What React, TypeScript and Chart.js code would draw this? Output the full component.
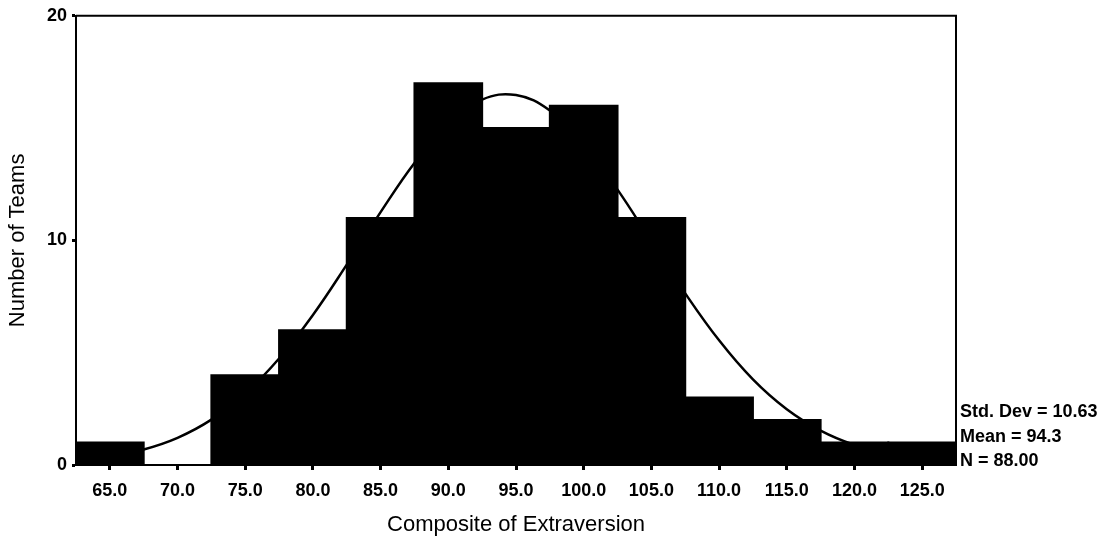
import React, { useEffect, useRef } from "react";
import { Chart, registerables } from "chart.js";

Chart.register(...registerables);

// Histogram bins (bin centres) and counts
const binCenters = [65, 70, 75, 80, 85, 90, 95, 100, 105, 110, 115, 120, 125];
const teamCounts = [1, 0, 4, 6, 11, 17, 15, 16, 11, 3, 2, 1, 1];

// Fitted normal curve
const curveX = [62.5, 65, 67.5, 70, 72.5, 75, 77.5, 80, 82.5, 85, 87.5, 90, 92.5, 95, 97.5, 100, 102.5, 105, 107.5, 110, 112.5, 115, 117.5, 120, 122.5, 125, 127.5];
const curveY = [0.19, 0.37, 0.69, 1.21, 2.02, 3.18, 4.74, 6.68, 8.92, 11.26, 13.45, 15.21, 16.27, 16.47, 15.78, 14.3, 12.26, 9.95, 7.64, 5.55, 3.81, 2.48, 1.53, 0.89, 0.49, 0.26, 0.13];

const xTicks = [65, 70, 75, 80, 85, 90, 95, 100, 105, 110, 115, 120, 125];
const yTicks = [0, 10, 20];
const statsLines = ["Std. Dev = 10.63", "Mean = 94.3", "N = 88.00"];

const xTitle = "Composite of Extraversion";
const yTitle = "Number of Teams";

const FONT = '"Liberation Sans", Arial, sans-serif';

const framePlugin = {
  id: "frame",
  afterDraw(chart: any) {
    const { ctx, chartArea } = chart;
    ctx.save();
    ctx.strokeStyle = "#000";
    ctx.lineWidth = 2;
    ctx.beginPath();
    ctx.moveTo(chartArea.left, chartArea.top);
    ctx.lineTo(chartArea.right, chartArea.top);
    ctx.lineTo(chartArea.right, chartArea.bottom);
    ctx.stroke();
    ctx.fillStyle = "#000";
    ctx.font = `bold 18px ${FONT}`;
    ctx.textAlign = "left";
    ctx.textBaseline = "middle";
    const ys = [412, 437, 461];
    statsLines.forEach((t, i) => ctx.fillText(t, chartArea.right + 4, ys[i]));
    ctx.restore();
  },
};

export default function App() {
  const ref = useRef<HTMLCanvasElement | null>(null);
  useEffect(() => {
    if (!ref.current) return;
    const chart = new Chart(ref.current, {
      type: "bar",
      data: {
        datasets: [
          {
            type: "line",
            data: curveX.map((x, i) => ({ x, y: curveY[i] })),
            borderColor: "#000",
            borderWidth: 2.5,
            pointRadius: 0,
            tension: 0.4,
            fill: false,
            order: 0,
          } as any,
          {
            type: "bar",
            data: binCenters.map((x, i) => ({ x, y: teamCounts[i] })),
            backgroundColor: "#000",
            borderWidth: 0,
            inflateAmount: 1,
            barPercentage: 1,
            categoryPercentage: 1,
            order: 1,
          } as any,
        ],
      },
      options: {
        responsive: false,
        animation: false,
        layout: { padding: { left: 0, top: 13, right: 155, bottom: 0 } },
        plugins: { legend: { display: false }, tooltip: { enabled: false } },
        scales: {
          x: {
            type: "linear",
            min: 62.5,
            max: 127.5,
            offset: false,
            afterBuildTicks: (s: any) => {
              s.ticks = xTicks.map((v) => ({ value: v }));
            },
            afterFit: (s: any) => {
              s.height = 94;
            },
            ticks: {
              color: "#000",
              font: { family: FONT, size: 18, weight: "bold" },
              padding: 10,
              maxRotation: 0,
              autoSkip: false,
              callback: (v: any) => Number(v).toFixed(1),
            },
            grid: { offset: false, drawOnChartArea: false, color: "#000", tickLength: 5, tickWidth: 3 },
            border: { display: true, color: "#000", width: 2 },
            title: {
              display: true,
              text: xTitle,
              color: "#000",
              font: { family: FONT, size: 22 },
              padding: { top: 0, bottom: 21 },
            },
          },
          y: {
            type: "linear",
            min: 0,
            max: 20,
            afterBuildTicks: (s: any) => {
              s.ticks = yTicks.map((v) => ({ value: v }));
            },
            afterFit: (s: any) => {
              s.width = 76;
            },
            ticks: {
              color: "#000",
              font: { family: FONT, size: 18, weight: "bold" },
              padding: 5,
            },
            grid: { drawOnChartArea: false, color: "#000", tickLength: 4, tickWidth: 3 },
            border: { display: true, color: "#000", width: 2 },
            title: {
              display: true,
              text: yTitle,
              color: "#000",
              font: { family: FONT, size: 22 },
              padding: { top: 5, bottom: 0 },
            },
          },
        },
      },
      plugins: [framePlugin],
    });
    return () => chart.destroy();
  }, []);
  return (
    <div style={{ position: "absolute", left: 0, top: 0, width: 1111, height: 559, background: "#fff" }}>
      <canvas ref={ref} width={1111} height={559} style={{ display: "block" }} />
    </div>
  );
}
